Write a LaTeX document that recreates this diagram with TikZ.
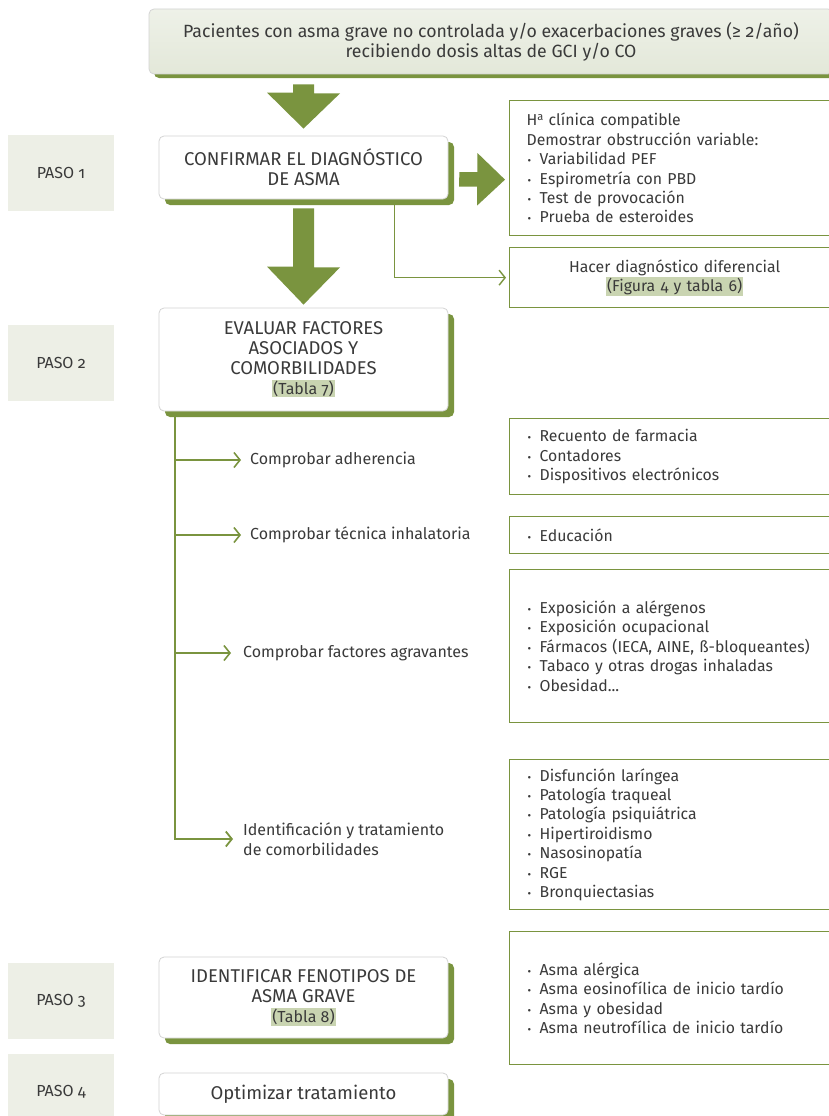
\documentclass[tikz,border=0pt]{standalone}
\usepackage{fontspec}
\setmainfont[Numbers=OldStyle]{Fira Sans}
\usetikzlibrary{calc,arrows.meta,shadows}
\definecolor{olv}{HTML}{7A943F}
\definecolor{pasofill}{HTML}{EDEFE6}
\definecolor{topfillA}{HTML}{EEF1E8}
\definecolor{topfillB}{HTML}{E3E8D9}
\definecolor{hl}{HTML}{C9D4B1}
\definecolor{txt}{HTML}{3A3A3A}
\definecolor{bord}{HTML}{D4D4D4}
\newcommand{\bul}{\makebox[13pt][l]{\hspace{1pt}{\fontsize{11}{11}\selectfont •}}}
\newcommand{\hlt}[1]{{\setlength{\fboxsep}{1pt}\colorbox{hl}{#1}}}
\newcommand{\ordA}{\raisebox{0.7ex}{\fontsize{11}{11}\selectfont a}}
\begin{document}
\begin{tikzpicture}[x=1pt,y=-1pt,
  every node/.style={text=txt, font=\fontsize{15.8}{19.4}\selectfont},
  pasobox/.style={fill=pasofill, minimum width=106pt, minimum height=76pt, inner sep=0pt,
    font=\fontsize{16}{19}\selectfont},
  stepbox/.style={draw=bord, line width=0.8pt, fill=white, rounded corners=5pt,
    minimum width=289pt, align=center, inner sep=2pt,
    font=\fontsize{18.5}{19.9}\selectfont,
    drop shadow={shadow xshift=6pt, shadow yshift=-6pt, fill=olv, opacity=1}},
  topbox/.style={draw=bord, line width=0.8pt, top color=topfillA, bottom color=topfillB,
    rounded corners=5pt, minimum width=684pt, minimum height=65pt, align=center,
    font=\fontsize{17.7}{20}\selectfont,
    drop shadow={shadow xshift=5pt, shadow yshift=-4pt, fill=olv, opacity=1}},
  listbox/.style={draw=olv, line width=1.3pt, minimum width=330pt, text width=296pt,
    inner xsep=17pt, inner ysep=0pt, align=left, anchor=north west},
  lbl/.style={inner sep=0pt, anchor=west, align=left, font=\fontsize{16}{19.8}\selectfont},
  blockarrow/.style={fill=olv},
  trunk/.style={draw=olv, line width=2pt, -{Straight Barb[length=6pt,width=15pt,line width=1.8pt]}},
  branch/.style={draw=olv, line width=1.6pt, -{Straight Barb[length=6pt,width=15pt,line width=1.6pt]}},
  thinarrow/.style={draw=olv, line width=1.4pt, -{Straight Barb[length=6pt,width=15pt,line width=1.4pt]}}
]
\clip (0,0) rectangle (829,1116);
\fill[white] (0,0) rectangle (829,1116);

% top box
\node[topbox] (top) at (491,41.5) {Pacientes con asma grave no controlada y/o exacerbaciones graves (≥ 2/año)\\recibiendo dosis altas de GCI y/o CO};

% step labels
\node[pasobox] (p1) at (61,173) {PASO 1};
\node[pasobox] (p2) at (61,363) {PASO 2};
\node[pasobox] (p3) at (61,1001) {PASO 3};
\node[pasobox] (p4) at (61,1092) {PASO 4};

% main step boxes
\node[stepbox, minimum height=63pt] (conf) at (303.5,167.5) {CONFIRMAR EL DIAGNÓSTICO\\DE ASMA};
\node[stepbox, minimum height=103pt] (eval) at (303.5,359.5) {EVALUAR FACTORES\\ASOCIADOS Y\\COMORBILIDADES\\{\fontsize{16}{19.9}\selectfont\hlt{(Tabla 7)}}};
\node[stepbox, minimum height=81pt] (ident) at (303.5,997.5) {IDENTIFICAR FENOTIPOS DE\\ASMA GRAVE\\{\fontsize{16}{19.9}\selectfont\hlt{(Tabla 8)}}};
\node[stepbox, minimum height=42pt] (opt) at (303.5,1094) {Optimizar tratamiento};

% right boxes
\node[listbox, minimum height=135pt] (hclin) at (509,100) {H\ordA{} clínica compatible\\Demostrar obstrucción variable:\\\bul Variabilidad PEF\\\bul Espirometría con PBD\\\bul Test de provocación\\\bul Prueba de esteroides};
\node[listbox, minimum height=60pt, align=center] (hacer) at (509,247) {Hacer diagnóstico diferencial\\\hlt{(Figura 4 y tabla 6)}};
\node[listbox, minimum height=76pt] (badh) at (509,418) {\bul Recuento de farmacia\\\bul Contadores\\\bul Dispositivos electrónicos};
\node[listbox, minimum height=37pt] (binh) at (509,516) {\bul Educación};
\node[listbox, minimum height=153pt] (bagr) at (509,569) {\bul Exposición a alérgenos\\\bul Exposición ocupacional\\\bul Fármacos (IECA, AINE, ß-bloqueantes)\\\bul Tabaco y otras drogas inhaladas\\\bul Obesidad...};
\node[listbox, minimum height=150pt] (bcom) at (509,759) {\bul Disfunción laríngea\\\bul Patología traqueal\\\bul Patología psiquiátrica\\\bul Hipertiroidismo\\\bul Nasosinopatía\\\bul RGE\\\bul Bronquiectasias};
\node[listbox, minimum height=133pt] (bfen) at (509,931) {\bul Asma alérgica\\\bul Asma eosinofílica de inicio tardío\\\bul Asma y obesidad\\\bul Asma neutrofílica de inicio tardío};

% branch labels
\node[lbl] (adh) at (250,460) {Comprobar adherencia};
\node[lbl] (inh) at (250,535) {Comprobar técnica inhalatoria};
\node[lbl] (agr) at (243,653) {Comprobar factores agravantes};
\node[lbl] (comorb) at (243,839) {Identificación y tratamiento\\de comorbilidades};

% block arrows
\fill[blockarrow] ($(top.south -| conf.north)+(-10.5,10)$) -- ++(21,0) -- ++(0,9) -- ++(26,0)
  -- ($(conf.north)+(0,-7)$) -- ++(-36.5,-36) -- ++(26,0) -- cycle;
\fill[blockarrow] ($(conf.south)+(-10.5,9)$) -- ++(21,0) -- ++(0,59) -- ++(26,0)
  -- ($(eval.north)+(0,-3)$) -- ++(-36.5,-38) -- ++(26,0) -- cycle;
\fill[blockarrow] ($(conf.east)+(11,4.5)$) -- ++(18,0) -- ++(0,-19)
  -- ($(hclin.west)+(-4,11.5)$) -- ++(-28,26) -- ++(0,-19) -- ++(-18,0) -- cycle;

% thin arrow to differential diagnosis
\draw[thinarrow] ($(conf.south west)+(236,6)$) |- ($(hacer.west)+(-3,0)$);

% trunk and branches
\coordinate (trk) at ($(eval.south west)+(16,5)$);
\draw[trunk] (trk) |- ($(comorb.west)+(-10,0)$);
\draw[branch] (adh.west -| trk) -- ($(adh.west)+(-9,0)$);
\draw[branch] (inh.west -| trk) -- ($(inh.west)+(-9,0)$);
\draw[branch] (agr.west -| trk) -- ($(agr.west)+(-12,0)$);
\end{tikzpicture}
\end{document}
